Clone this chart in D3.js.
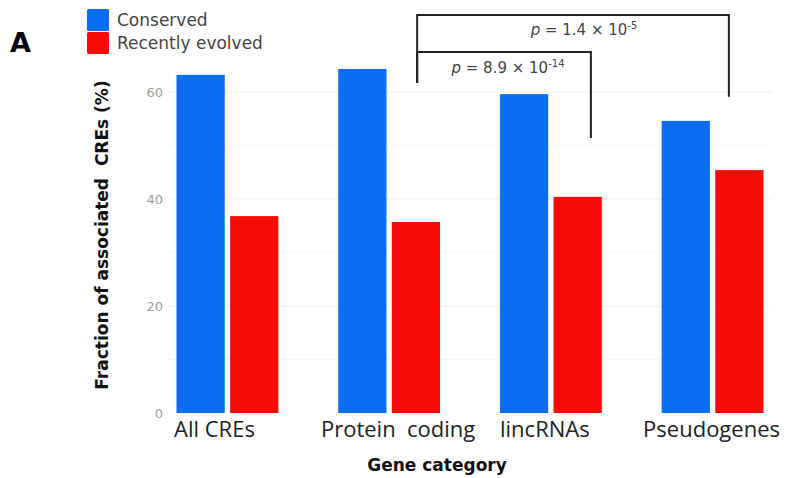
<!DOCTYPE html>
<html>
<head>
<meta charset="utf-8">
<script src="https://cdn.jsdelivr.net/npm/d3@7/dist/d3.min.js"></script>
<style>
  html, body { margin: 0; padding: 0; background: #fff; }
  svg { display: block; }
</style>
</head>
<body>
<svg id="chart" width="785" height="478"></svg>
<script>
// Gene categories and the share of associated CREs per conservation class (%)
const categories = ["All CREs", "Protein coding", "lincRNAs", "Pseudogenes"];
const seriesNames = ["Conserved", "Recently evolved"];
const conserved = [63.2, 64.3, 59.6, 54.6];
const recentlyEvolved = [36.8, 35.7, 40.4, 45.4];
const yTicks = [0, 20, 40, 60];
const yMinorTicks = [10, 30, 50];
const pLabels = [
  { mantissa: "8.9", exponent: "-14" },
  { mantissa: "1.4", exponent: "-5" }
];

const colors = { "Conserved": "#0b6ef3", "Recently evolved": "#f50c06" };

const svg = d3.select("#chart");

const x = d3.scaleBand()
  .domain(categories)
  .range([160, 780])
  .paddingInner(0.37)
  .paddingOuter(0.102);

const xSub = d3.scaleBand()
  .domain(seriesNames)
  .range([0, x.bandwidth()])
  .paddingInner(0.1);

const y = d3.scaleLinear().domain([0, 60]).range([413, 92]);

const plotLeft = 168, plotRight = 772;

// faint background grid
const grid = svg.append("g");
grid.selectAll("line.minor").data(yMinorTicks).join("line")
  .attr("class", "minor")
  .attr("x1", plotLeft).attr("x2", plotRight)
  .attr("y1", d => y(d)).attr("y2", d => y(d))
  .attr("stroke", "#f7f7f7").attr("stroke-width", 1);
grid.selectAll("line.major").data(yTicks.filter(d => d > 0)).join("line")
  .attr("class", "major")
  .attr("x1", plotLeft).attr("x2", plotRight)
  .attr("y1", d => y(d)).attr("y2", d => y(d))
  .attr("stroke", "#f0f0f0").attr("stroke-width", 1);

// y axis: tick labels only
const yAxis = d3.axisLeft(y).tickValues(yTicks).tickSize(0).tickPadding(0);
const gy = svg.append("g").attr("transform", "translate(163,0)").call(yAxis);
gy.select(".domain").remove();
gy.selectAll("text")
  .attr("fill", "#a0a0a0")
  .style("font-family", "DejaVu Sans, sans-serif")
  .style("font-size", "13px");

// bars
const rows = categories.map((c, i) => ({
  category: c,
  values: [
    { series: "Conserved", value: conserved[i] },
    { series: "Recently evolved", value: recentlyEvolved[i] }
  ]
}));

svg.append("g").selectAll("g").data(rows).join("g")
  .attr("transform", d => `translate(${x(d.category)},0)`)
  .selectAll("rect").data(d => d.values).join("rect")
  .attr("x", d => xSub(d.series))
  .attr("width", xSub.bandwidth())
  .attr("y", d => y(d.value))
  .attr("height", d => y(0) - y(d.value))
  .attr("fill", d => colors[d.series]);

// category labels
const labelShift = { "All CREs": -13, "Protein coding": 9, "lincRNAs": -6, "Pseudogenes": -1 };
svg.append("g").selectAll("text").data(categories).join("text")
  .attr("x", d => x(d) + x.bandwidth() / 2 + labelShift[d])
  .attr("y", 437)
  .attr("text-anchor", "middle")
  .attr("fill", "#222")
  .style("font-family", "Open Sans, sans-serif")
  .style("font-size", "22px")
  .text(d => d === "Protein coding" ? "Protein\u00a0\u00a0coding" : d);

// axis titles
svg.append("text")
  .attr("x", 437).attr("y", 471)
  .attr("text-anchor", "middle")
  .attr("fill", "#111")
  .style("font-family", "DejaVu Sans, sans-serif")
  .style("font-weight", "bold")
  .style("font-size", "17px")
  .text("Gene category");

svg.append("text")
  .attr("transform", "translate(108,235) rotate(-90)")
  .attr("text-anchor", "middle")
  .attr("fill", "#111")
  .style("font-family", "DejaVu Sans, sans-serif")
  .style("font-weight", "bold")
  .style("font-size", "17px")
  .text("Fraction of associated\u00a0\u00a0CREs (%)");

// panel letter
svg.append("text")
  .attr("x", 10).attr("y", 52)
  .attr("fill", "#000")
  .style("font-family", "DejaVu Sans, sans-serif")
  .style("font-weight", "bold")
  .style("font-size", "27px")
  .text("A");

// legend
const legend = svg.append("g").attr("transform", "translate(87,9)");
legend.selectAll("rect").data(seriesNames).join("rect")
  .attr("x", 0).attr("y", (d, i) => i * 23)
  .attr("width", 22).attr("height", 22)
  .attr("rx", 1.5)
  .attr("fill", d => colors[d]);
legend.selectAll("text").data(seriesNames).join("text")
  .attr("x", 30).attr("y", (d, i) => 17 + i * 22.5)
  .attr("fill", "#444")
  .style("font-family", "DejaVu Sans, sans-serif")
  .style("font-size", "17px")
  .text(d => d);

// significance brackets
const groupX = (cat, frac) => x(cat) + frac * x.bandwidth();
const brackets = [
  { from: ["Protein coding", 0.775], to: ["lincRNAs", 0.893], top: 67.5, leftEnd: 61.7, rightEnd: 51.4, p: pLabels[0], labelY: 73, labelX: 508 },
  { from: ["Protein coding", 0.775], to: ["Pseudogenes", 0.66], top: 74.4, leftEnd: 61.7, rightEnd: 59.1, p: pLabels[1], labelY: 35, labelX: 584 }
];

const bg = svg.append("g")
  .attr("fill", "none")
  .attr("stroke", "#222")
  .attr("stroke-width", 2);
brackets.forEach(b => {
  const x1 = groupX(...b.from), x2 = groupX(...b.to);
  bg.append("path").attr("d",
    `M${x1},${y(b.leftEnd)}V${y(b.top)}H${x2}V${y(b.rightEnd)}`);
});

brackets.forEach(b => {
  const t = svg.append("text")
    .attr("x", b.labelX).attr("y", b.labelY)
    .attr("text-anchor", "middle")
    .attr("fill", "#444")
    .style("font-family", "DejaVu Sans, sans-serif")
    .style("font-size", "15px");
  t.append("tspan").style("font-style", "italic").text("p");
  t.append("tspan").text(` = ${b.p.mantissa} \u00d7 10`);
  t.append("tspan").attr("dy", -6).style("font-size", "10px").text(b.p.exponent);
});
</script>
</body>
</html>
